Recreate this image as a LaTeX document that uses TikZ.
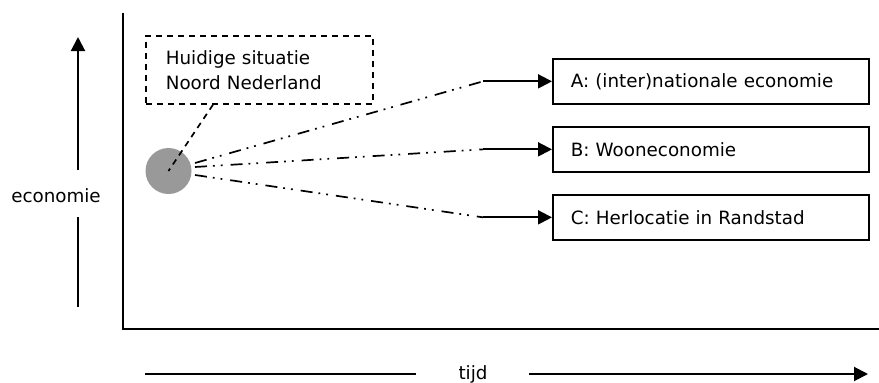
\documentclass[tikz,border=0pt]{standalone}
\usepackage{fontspec}
\setmainfont{DejaVu Sans}
\usetikzlibrary{arrows.meta,calc,positioning}
\definecolor{bolgrijs}{RGB}{153,153,153}

\begin{document}
\begin{tikzpicture}[x=1pt,y=-1pt,
  lbl/.style={font=\fontsize{18.3}{25}\selectfont},
  scen/.style={draw, line width=1.7pt, anchor=north west, minimum width=316pt,
    minimum height=45pt, text width=280pt, inner xsep=18pt, align=left, lbl},
  pijl/.style={line width=2pt, -{Triangle[length=14pt, width=14pt]}},
  dashdotdot/.style={line width=1.7pt,
    dash pattern=on 12pt off 6pt on 1.8pt off 6pt on 1.8pt off 8pt},
  kader/.style={draw, line width=1.7pt, dash pattern=on 6pt off 5pt}]

  % Fixed bounding box
  \path[use as bounding box, fill=white] (0,0) rectangle (879,383);

  % Axes
  \coordinate (origin) at (123,329);
  \draw[line width=2pt] (123,13) -- (origin) -- (879,329);

  % Vertical label with arrow
  \node[lbl, anchor=base] (econ) at (56,202) {economie};
  \coordinate (ybot) at (78,307);
  \coordinate (ylow) at (78,217);
  \coordinate (yhigh) at (78,170);
  \coordinate (ytop) at (78,37);
  \draw[line width=2pt] (ybot) -- (ylow);
  \draw[pijl] (yhigh) -- (ytop);

  % Horizontal label with arrow
  \node[lbl, anchor=base] (tijd) at (473,379) {tijd};
  \coordinate (tstart) at (145,374);
  \coordinate (tleft) at (416,374);
  \coordinate (tright) at (529,374);
  \coordinate (tend) at (868,374);
  \draw[line width=2pt] (tstart) -- (tleft);
  \draw[pijl] (tright) -- (tend);

  % Current situation
  \node[circle, fill=bolgrijs, minimum size=46pt, inner sep=0pt] (now) at (168.5,171) {};
  \node[kader, lbl, anchor=north west, minimum width=227pt, minimum height=68pt,
    text width=187pt, inner xsep=20pt, align=left] (huidig) at (145,35)
    {Huidige situatie\\Noord Nederland};
  \draw[kader, draw=black] (huidig.south west) ++(68,0) -- (now.center);

  % Scenario boxes
  \foreach \name/\yy/\txt in {A/58/{A: (inter)nationale economie},
      B/126/{B: Wooneconomie}, C/194/{C: Herlocatie in Randstad}} {
    \node[scen] (box\name) at (552,\yy) {\txt};
  }

  % Paths to the scenarios
  \foreach \name/\dy in {A/-8,B/-4,C/4} {
    \coordinate (k\name) at ([xshift=-69pt]box\name.west);
    \draw[dashdotdot] ($(now.center)+(26.5,\dy)$) -- (k\name);
    \draw[pijl] (k\name) -- (box\name.west);
  }

\end{tikzpicture}
\end{document}
